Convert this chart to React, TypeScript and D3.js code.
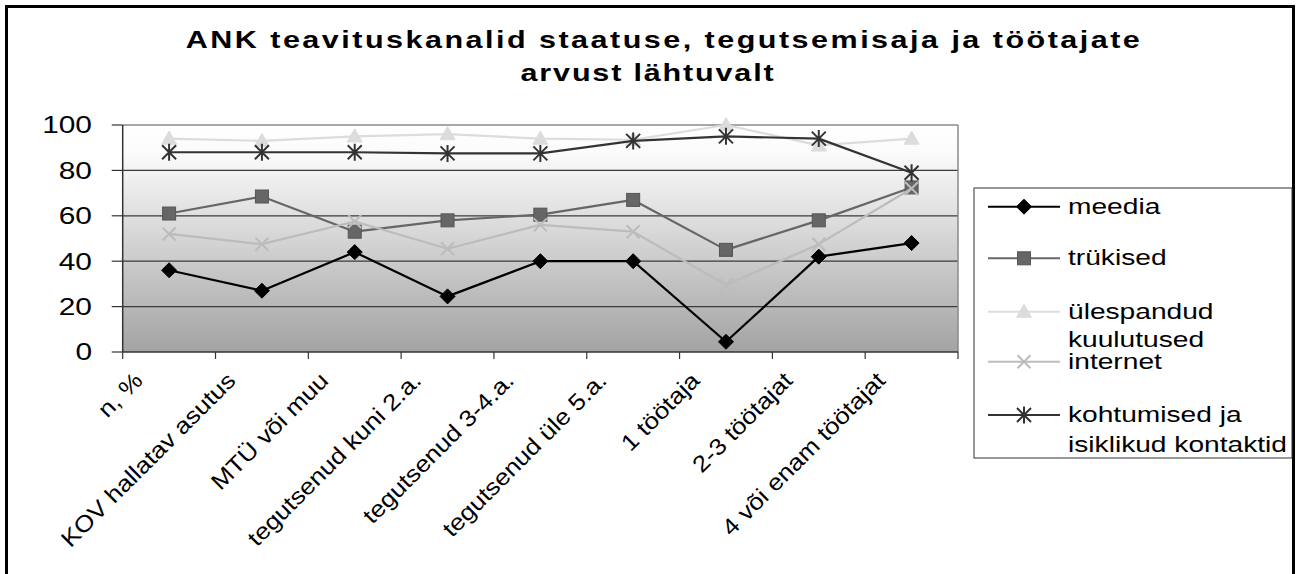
import React from "react";
import * as d3 from "d3";

const categories = [
  "n, %",
  "KOV hallatav asutus",
  "MTÜ või muu",
  "tegutsenud kuni 2.a.",
  "tegutsenud 3-4.a.",
  "tegutsenud üle 5.a.",
  "1 töötaja",
  "2-3 töötajat",
  "4 või enam töötajat",
];

const meedia = [36, 27, 44, 24.5, 40, 40, 4.5, 42, 48];
const trukised = [61, 68.5, 53, 58, 60.5, 67, 45, 58, 72.5];
const ulespandud = [94, 93, 95, 96, 94, 93.5, 100, 91, 94];
const internet = [52, 47.5, 57.5, 45.5, 56, 53, 29.5, 47.5, 72];
const kohtumised = [88, 88, 88, 87.5, 87.5, 93, 95, 94, 79];

const yTicks = [0, 20, 40, 60, 80, 100];

const titleLines = ["ANK teavituskanalid staatuse, tegutsemisaja ja töötajate", "arvust lähtuvalt"];

type Marker = "diamond" | "square" | "triangle" | "x" | "asterisk";

const series: { name: string[]; values: number[]; color: string; marker: Marker }[] = [
  { name: ["meedia"], values: meedia, color: "#000000", marker: "diamond" },
  { name: ["trükised"], values: trukised, color: "#666666", marker: "square" },
  { name: ["ülespandud", "kuulutused"], values: ulespandud, color: "#dcdcdc", marker: "triangle" },
  { name: ["internet"], values: internet, color: "#bcbcbc", marker: "x" },
  { name: ["kohtumised ja", "isiklikud kontaktid"], values: kohtumised, color: "#333333", marker: "asterisk" },
];

const FONT = "'Liberation Sans', Arial, Helvetica, sans-serif";
const SX = 1.3;

function markerEl(m: Marker, x: number, y: number, color: string, key?: string) {
  switch (m) {
    case "diamond": {
      const r = 7.5;
      return <path key={key} d={`M${x},${y - r}L${x + r},${y}L${x},${y + r}L${x - r},${y}Z`} fill={color} stroke={color} strokeWidth={1} />;
    }
    case "square": {
      const r = 6.5;
      return <rect key={key} x={x - r} y={y - r} width={2 * r} height={2 * r} fill={color} stroke="#555" strokeWidth={1} />;
    }
    case "triangle": {
      const r = 7.5;
      return <path key={key} d={`M${x},${y - r}L${x + r},${y + r * 0.75}L${x - r},${y + r * 0.75}Z`} fill={color} stroke={color} strokeWidth={1} />;
    }
    case "x": {
      const r = 6.5;
      return <path key={key} d={`M${x - r},${y - r}L${x + r},${y + r}M${x - r},${y + r}L${x + r},${y - r}`} stroke={color} strokeWidth={2} fill="none" />;
    }
    case "asterisk": {
      const r = 7;
      return <path key={key} d={`M${x - r},${y - r}L${x + r},${y + r}M${x - r},${y + r}L${x + r},${y - r}M${x},${y - r - 1.5}L${x},${y + r + 1.5}`} stroke={color} strokeWidth={2} fill="none" />;
    }
  }
}

export default function App() {
  const W = 1296, H = 574;
  const plotL = 122.7, plotR = 958, plotT = 125, plotB = 352;

  const x = d3.scaleBand<string>().domain(categories).range([plotL, plotR]).padding(0);
  const y = d3.scaleLinear().domain([0, 100]).range([plotB, plotT]);
  const cx = (c: string) => (x(c) as number) + x.bandwidth() / 2;

  const line = d3.line<number>().x((_, i) => cx(categories[i])).y((v) => y(v));

  const boundaries = categories.map((c) => x(c) as number).concat([plotR]);

  const legendX = 974, legendY = 188, legendW = 318, legendH = 270;
  const legendRows = [206.7, 258.3, 311.7, 361.7, 415];
  const legendLineGap = [0, 0, 28, 0, 30];

  return (
    <svg width={W} height={H} style={{ position: "absolute", left: 0, top: 0 }} fontFamily={FONT}>
      <defs>
        <linearGradient id="plotbg" x1="0" y1="0" x2="0" y2="1">
          <stop offset="0" stopColor="#ffffff" />
          <stop offset="0.12" stopColor="#fbfbfb" />
          <stop offset="1" stopColor="#a3a3a3" />
        </linearGradient>
      </defs>
      <rect x={0} y={0} width={W} height={H} fill="#fff" />
      <rect x={6.5} y={6.5} width={1287} height={620} fill="none" stroke="#000" strokeWidth={3} />

      {/* title */}
      <g fontWeight="bold" fontSize={23.5} fill="#000">
        <text transform={`translate(664,47.5) scale(${SX},1)`} textAnchor="middle" letterSpacing={1.9}>{titleLines[0]}</text>
        <text transform={`translate(648,81) scale(${SX},1)`} textAnchor="middle" letterSpacing={1.4}>{titleLines[1]}</text>
      </g>

      {/* plot area */}
      <rect x={plotL} y={plotT} width={plotR - plotL} height={plotB - plotT} fill="url(#plotbg)" />
      {yTicks.filter((t) => t > 0 && t < 100).map((t) => (
        <line key={t} x1={plotL} x2={plotR} y1={y(t)} y2={y(t)} stroke="#3a3a3a" strokeWidth={1.2} />
      ))}
      <line x1={plotL} x2={plotR} y1={y(100)} y2={y(100)} stroke="#8a8a8a" strokeWidth={1.5} />
      <line x1={plotR} x2={plotR} y1={plotT} y2={plotB} stroke="#8a8a8a" strokeWidth={1.5} />

      {/* axes */}
      <line x1={plotL} x2={plotL} y1={plotT} y2={plotB} stroke="#333" strokeWidth={1.5} />
      <line x1={plotL} x2={plotR} y1={plotB} y2={plotB} stroke="#333" strokeWidth={1.5} />
      {yTicks.map((t) => (
        <g key={t}>
          <line x1={plotL - 11} x2={plotL} y1={y(t)} y2={y(t)} stroke="#333" strokeWidth={1.2} />
          <text transform={`translate(92,${y(t) + 8.3}) scale(${SX},1)`} textAnchor="end" fontSize={23} fill="#000">{t}</text>
        </g>
      ))}
      {boundaries.map((b, i) => (
        <line key={i} x1={b} x2={b} y1={plotB} y2={plotB + 7} stroke="#333" strokeWidth={1.2} />
      ))}
      {categories.map((c) => (
        <text key={c} transform={`translate(${cx(c) - 25},382) rotate(-45) scale(1.13,1)`} textAnchor="end" fontSize={23} fill="#000">{c}</text>
      ))}

      {/* series */}
      {series.map((s) => (
        <g key={s.name.join(" ")}>
          <path d={line(s.values) || ""} fill="none" stroke={s.color} strokeWidth={2.2} strokeLinejoin="round" />
          {s.values.map((v, i) => markerEl(s.marker, cx(categories[i]), y(v), s.color, String(i)))}
        </g>
      ))}

      {/* legend */}
      <rect x={legendX} y={legendY} width={legendW} height={legendH} fill="#fff" stroke="#333" strokeWidth={1} />
      {series.map((s, i) => {
        const ly = legendRows[i];
        return (
          <g key={i}>
            <line x1={988} x2={1060} y1={ly} y2={ly} stroke={s.color} strokeWidth={2} />
            {markerEl(s.marker, 1024, ly, s.color)}
            {s.name.map((n, j) => (
              <text key={j} transform={`translate(1068,${ly + 7 + j * legendLineGap[i]}) scale(1.28,1)`} fontSize={22} fill="#000">{n}</text>
            ))}
          </g>
        );
      })}
    </svg>
  );
}
